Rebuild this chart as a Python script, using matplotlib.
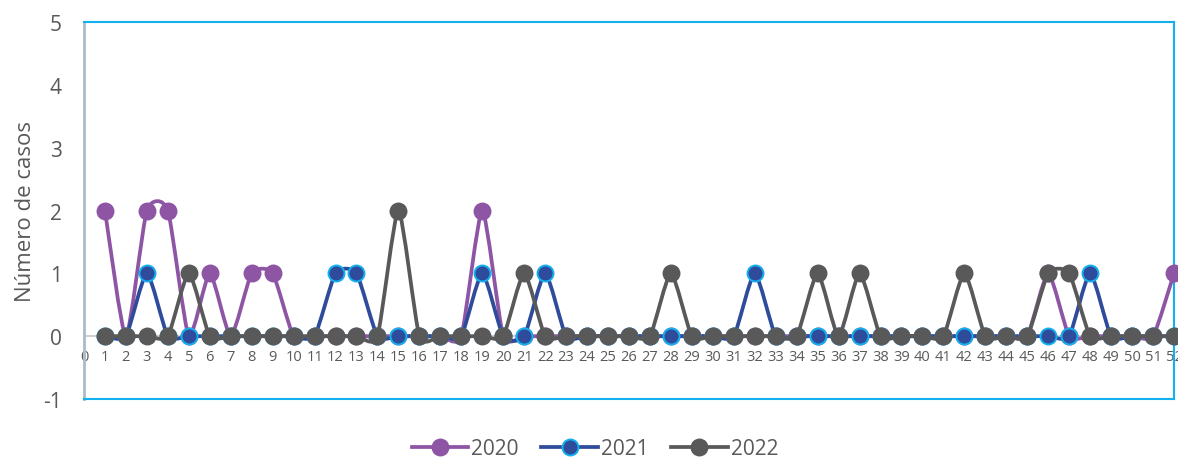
import matplotlib.pyplot as plt
import numpy as np
from matplotlib.path import Path
from matplotlib.patches import PathPatch
from matplotlib.lines import Line2D

plt.rcParams['font.family'] = ['Open Sans', 'DejaVu Sans']
plt.rcParams['axes.unicode_minus'] = False

semanas = list(range(1, 53))
casos_2020 = [2, 0, 2, 2, 0, 1, 0, 1, 1, 0, 0, 0, 0, 0, 0, 0, 0, 0, 2, 0,
              0, 0, 0, 0, 0, 0, 0, 0, 0, 0, 0, 0, 0, 0, 0, 0, 0, 0, 0, 0,
              0, 0, 0, 0, 0, 1, 0, 0, 0, 0, 0, 1]
casos_2021 = [0, 0, 1, 0, 0, 0, 0, 0, 0, 0, 0, 1, 1, 0, 0, 0, 0, 0, 1, 0,
              0, 1, 0, 0, 0, 0, 0, 0, 0, 0, 0, 1, 0, 0, 0, 0, 0, 0, 0, 0,
              0, 0, 0, 0, 0, 0, 0, 1, 0, 0, 0, 0]
casos_2022 = [0, 0, 0, 0, 1, 0, 0, 0, 0, 0, 0, 0, 0, 0, 2, 0, 0, 0, 0, 0,
              1, 0, 0, 0, 0, 0, 0, 1, 0, 0, 0, 0, 0, 0, 1, 0, 1, 0, 0, 0,
              0, 1, 0, 0, 0, 1, 1, 0, 0, 0, 0, 0]
anos = ["2020", "2021", "2022"]

COR_LINHA = ["#8E55A5", "#2F4B9B", "#595959"]
COR_BORDA = ["#8E55A5", "#12B0EE", "#595959"]
COR_TEXTO = "#595959"
TENSAO = 0.1


def caminho_suave(x, y):
    # curva bezier suavizada passando pelos pontos
    x = np.asarray(x, float)
    y = np.asarray(y, float)
    n = len(x)
    verts = [(x[0], y[0])]
    codes = [Path.MOVETO]
    for i in range(n - 1):
        a = max(i - 1, 0)
        b = min(i + 2, n - 1)
        c1 = (x[i] + (x[i + 1] - x[a]) * TENSAO, y[i] + (y[i + 1] - y[a]) * TENSAO)
        c2 = (x[i + 1] - (x[b] - x[i]) * TENSAO, y[i + 1] - (y[b] - y[i]) * TENSAO)
        verts += [c1, c2, (x[i + 1], y[i + 1])]
        codes += [Path.CURVE4] * 3
    return Path(verts, codes)


fig = plt.figure(figsize=(11.78, 4.60), dpi=100)
ax = fig.add_axes([0.0713, 0.1304, 0.9253, 0.8196])

series = [casos_2020, casos_2021, casos_2022]
for k, dados in enumerate(series):
    patch = PathPatch(caminho_suave(semanas, dados), facecolor="none",
                      edgecolor=COR_LINHA[k], lw=2.7, zorder=3 + 2 * k,
                      capstyle="round", joinstyle="round")
    ax.add_patch(patch)
    ax.plot(semanas, dados, linestyle="none", marker="o", markersize=11.5,
            markerfacecolor=COR_LINHA[k], markeredgecolor=COR_BORDA[k],
            markeredgewidth=1.4, zorder=4 + 2 * k, clip_on=False)

ax.set_xlim(0, 52)
ax.set_ylim(-1, 5)

# linha do zero com os rótulos das semanas
ax.axhline(0, color="#D0D0D0", lw=1.5, zorder=2)
for s in range(0, 53):
    ax.text(s, -0.33, str(s), ha="center", va="center", fontsize=10.5,
            color=COR_TEXTO, zorder=1)
ax.set_xticks([])

ax.set_yticks(range(-1, 6))
ax.tick_params(axis="y", length=0, pad=16, labelsize=15, labelcolor=COR_TEXTO)
ax.set_ylabel("Número de casos", fontsize=16, color=COR_TEXTO, labelpad=5)

for lado in ["top", "right", "bottom"]:
    ax.spines[lado].set_color("#12B0EE")
    ax.spines[lado].set_linewidth(1.5)
ax.spines["left"].set_color("#A9BCC8")
ax.spines["left"].set_linewidth(2)

handles = [Line2D([0], [0], color=COR_LINHA[k], lw=2.7, marker="o",
                  markersize=11.5, markerfacecolor=COR_LINHA[k],
                  markeredgecolor=COR_BORDA[k], markeredgewidth=1.4)
           for k in range(3)]
leg = fig.legend(handles, anos, loc="center", bbox_to_anchor=(0.505, 0.022),
                 ncol=3, frameon=False, fontsize=15, handlelength=2.7,
                 handletextpad=0.15, columnspacing=1.1)
for t in leg.get_texts():
    t.set_color(COR_TEXTO)

fig.savefig("out.png", dpi=100)
